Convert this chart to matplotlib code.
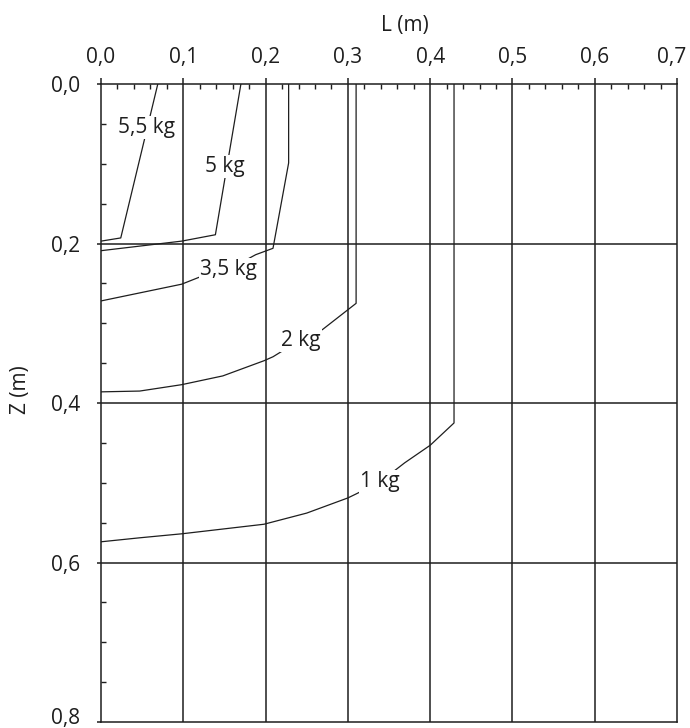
#!/usr/bin/env python3
"""Iso-mass curves: depth Z vs distance L (reconstructed chart)."""

import matplotlib
matplotlib.use("Agg")
import matplotlib.pyplot as plt
from matplotlib.ticker import MultipleLocator, FuncFormatter
from matplotlib.transforms import ScaledTranslation

plt.rcParams["font.family"] = ["Open Sans", "DejaVu Sans"]

INK = "#1e1e1e"
FS = 15

# ── Data ────────────────────────────────────────────────────────────────────
labels = ["5,5 kg", "5 kg", "3,5 kg", "2 kg", "1 kg"]

L_55 = [0.069, 0.024, 0.0]
Z_55 = [0.0, 0.193, 0.197]

L_5 = [0.170, 0.139, 0.098, 0.0]
Z_5 = [0.0, 0.189, 0.197, 0.209]

L_35 = [0.228, 0.228, 0.209, 0.188, 0.154, 0.120, 0.098, 0.0]
Z_35 = [0.0, 0.099, 0.206, 0.214, 0.233, 0.242, 0.251, 0.272]

L_2 = [0.310, 0.310, 0.269, 0.242, 0.209, 0.198, 0.148, 0.098, 0.047, 0.0]
Z_2 = [0.0, 0.275, 0.308, 0.321, 0.342, 0.347, 0.366, 0.377, 0.385, 0.386]

L_1 = [0.429, 0.429, 0.400, 0.369, 0.339, 0.310, 0.300, 0.250, 0.198, 0.148, 0.098, 0.047, 0.0]
Z_1 = [0.0, 0.425, 0.453, 0.475, 0.499, 0.514, 0.519, 0.538, 0.552, 0.558, 0.564, 0.569, 0.574]

curves = [(L_55, Z_55), (L_5, Z_5), (L_35, Z_35), (L_2, Z_2), (L_1, Z_1)]

# where each curve label sits (L, Z)
label_at = [(0.055, 0.054), (0.150, 0.103), (0.155, 0.233), (0.243, 0.321), (0.339, 0.499)]

x_ticks = [0.0, 0.1, 0.2, 0.3, 0.4, 0.5, 0.6, 0.7]
y_ticks = [0.0, 0.2, 0.4, 0.6, 0.8]


def comma(v, _pos):
    return f"{v:.1f}".replace(".", ",")


fig = plt.figure(figsize=(6.9, 7.28), dpi=100)
ax = fig.add_axes([0.1464, 0.0082, 0.8348, 0.8764])

ax.set_xlim(0.0, 0.7)
ax.set_ylim(0.8, 0.0)

# grid
for x in x_ticks[1:-1]:
    ax.axvline(x, color=INK, lw=1.1, zorder=1)
for y in y_ticks[1:-1]:
    ax.axhline(y, color=INK, lw=1.1, zorder=1)

# curves + labels
for (L, Z), text, (lx, lz) in zip(curves, labels, label_at):
    ax.plot(L, Z, color=INK, lw=0.9, zorder=2)
    ax.text(lx, lz, text, ha="center", va="center", fontsize=FS, color=INK,
            zorder=3, bbox=dict(facecolor="white", edgecolor="none", pad=0.8))

# axes / ticks
for sp in ax.spines.values():
    sp.set_color(INK)
    sp.set_linewidth(1.1)

ax.xaxis.tick_top()
ax.xaxis.set_label_position("top")
ax.set_xticks(x_ticks)
ax.set_yticks(y_ticks)
ax.xaxis.set_major_formatter(FuncFormatter(comma))
ax.yaxis.set_major_formatter(FuncFormatter(comma))
ax.xaxis.set_minor_locator(MultipleLocator(0.02))
ax.yaxis.set_minor_locator(MultipleLocator(0.05))

ax.tick_params(axis="x", which="major", direction="out", length=4.5, width=1.1,
               color=INK, labelsize=FS, labelcolor=INK, pad=7)
ax.tick_params(axis="x", which="minor", direction="in", length=3.5, width=1.0, color=INK)
ax.tick_params(axis="y", which="major", direction="out", length=3, width=1.1,
               color=INK, labelsize=FS, labelcolor=INK, pad=12)
ax.tick_params(axis="y", which="minor", direction="in", length=3.5, width=1.0, color=INK)

# nudge the edge labels ("0,8" bottom, "0,7" right) so they stay inside the picture
fig.canvas.draw()
last_y = ax.get_yticklabels()[-1]
last_y.set_transform(last_y.get_transform() + ScaledTranslation(0, 4 / 72, fig.dpi_scale_trans))
last_x = ax.get_xticklabels()[-1]
last_x.set_transform(last_x.get_transform() + ScaledTranslation(-4 / 72, 0, fig.dpi_scale_trans))

ax.set_xlabel("L (m)", fontsize=FS, color=INK)
ax.xaxis.set_label_coords(0.528, 1.092)
ax.xaxis.label.set_va("center")
ax.set_ylabel("Z (m)", fontsize=FS, color=INK)
ax.yaxis.set_label_coords(-0.1406, 0.5204)
ax.yaxis.label.set_va("center")

fig.savefig("out.png", dpi=100)
